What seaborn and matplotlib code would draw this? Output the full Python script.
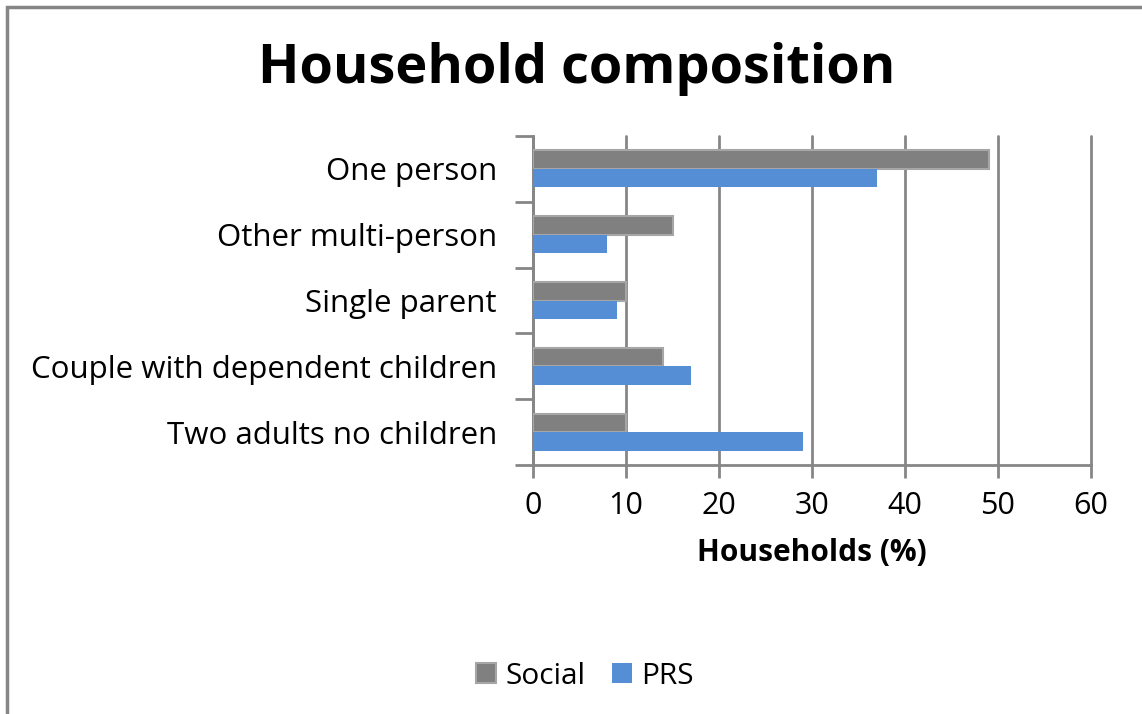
import matplotlib
matplotlib.use("Agg")
import matplotlib.pyplot as plt
import seaborn as sns
import pandas as pd
from matplotlib.patches import Rectangle

categories = ["One person", "Other multi-person", "Single parent",
              "Couple with dependent children", "Two adults no children"]
social = [49, 15, 10, 14, 10]
prs = [37, 8, 9, 17, 29]
series_names = ["Social", "PRS"]
xticks = [0, 10, 20, 30, 40, 50, 60]

df = pd.DataFrame({
    "category": categories * 2,
    "value": social + prs,
    "series": [series_names[0]] * len(categories) + [series_names[1]] * len(categories),
})

sns.set_theme(style="white")
plt.rcParams["font.family"] = ["Open Sans", "DejaVu Sans"]
plt.rcParams["text.color"] = "black"
plt.rcParams["xtick.color"] = "black"
plt.rcParams["ytick.color"] = "black"
plt.rcParams["axes.labelcolor"] = "black"

W, H = 1142, 714
fig = plt.figure(figsize=(W / 100, H / 100), dpi=100)
ax = fig.add_axes([533 / W, 1 - 465 / H, (1091 - 533) / W, (465 - 136) / H])

palette = {"Social": "#808080", "PRS": "#558ED5"}
sns.barplot(data=df, y="category", x="value", hue="series", order=categories,
            hue_order=series_names, palette=palette, orient="h", width=0.56,
            saturation=1, ax=ax, legend=False, zorder=3)

for bar, name in zip(ax.patches, ["Social"] * 5 + ["PRS"] * 5):
    if name == "Social":
        bar.set_edgecolor("#a6a6a6")
        bar.set_linewidth(1.5)
    else:
        bar.set_edgecolor("none")

ax.set_xlim(0, 60)
ax.set_xticks(xticks)
ax.set_xticklabels([str(t) for t in xticks], fontsize=22)
ax.xaxis.grid(True, color="#868686", linewidth=2, zorder=0)
for gl in ax.get_xgridlines():
    gl.set_clip_on(False)
ax.set_axisbelow(True)

# category boundary ticks
ax.set_yticks([i - 0.5 for i in range(len(categories) + 1)], minor=True)
ax.set_yticks(range(len(categories)))
ax.set_yticklabels(categories, fontsize=22.5)
ax.tick_params(axis="y", which="major", length=0, pad=26)
ax.tick_params(axis="y", which="minor", length=13, width=2, color="#868686", left=True)
ax.tick_params(axis="x", which="major", length=9, width=2, color="#868686",
               labelcolor="black", bottom=True, pad=10)
ax.set_ylim(len(categories) - 0.5, -0.5)

for s in ["top", "right"]:
    ax.spines[s].set_visible(False)
for s in ["left", "bottom"]:
    ax.spines[s].set_color("#868686")
    ax.spines[s].set_linewidth(2)

ax.set_xlabel("Households (%)", fontsize=21.5, fontweight="bold", labelpad=12)
ax.set_ylabel("")

fig.text(577 / W, 1 - 83 / H, "Household composition", fontsize=39,
         fontweight="bold", ha="center", va="baseline", color="black")

# legend
handles = [Rectangle((0, 0), 1, 1, facecolor="#808080", edgecolor="#a6a6a6", linewidth=1.5),
           Rectangle((0, 0), 1, 1, facecolor="#558ED5", edgecolor="none")]
fig.legend(handles, series_names, loc="center", bbox_to_anchor=(585 / W, 1 - 676 / H),
           ncol=2, frameon=False, fontsize=21.5, handlelength=0.68, handleheight=0.68,
           handletextpad=0.3, columnspacing=0.9)

# outer frame
fig.patches.append(Rectangle((7 / W, -0.1), 1.2, 1 - 7 / H + 0.1, transform=fig.transFigure,
                             fill=False, edgecolor="#868686", linewidth=2.5))

fig.savefig("out.png", dpi=100)
